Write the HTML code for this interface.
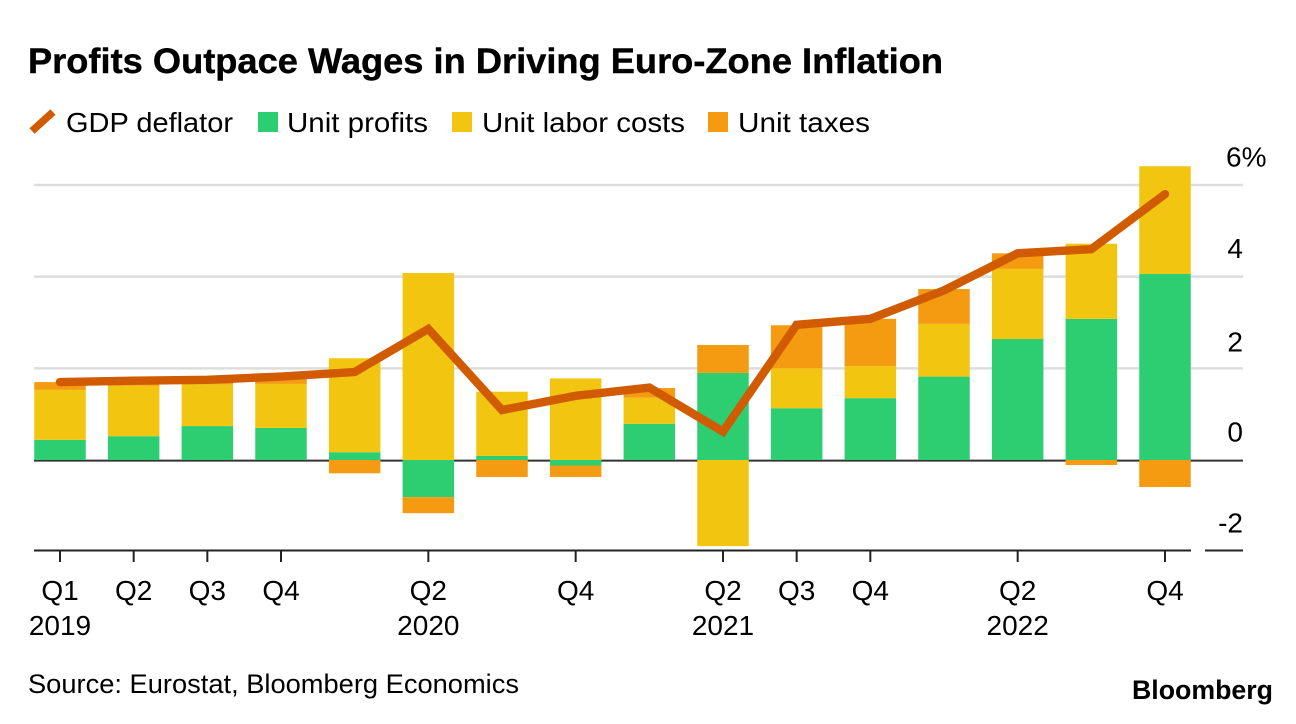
<!DOCTYPE html>
<html lang="en">
<head>
<meta charset="utf-8">
<title>Profits Outpace Wages in Driving Euro-Zone Inflation</title>
<style>
html,body{margin:0;padding:0;background:#fff;width:1296px;height:724px;overflow:hidden}
svg{display:block;font-family:"Liberation Sans",Arial,sans-serif;fill:#000}
</style>
</head>
<body>
<svg id="chart" width="1296" height="724" viewBox="0 0 1296 724" xmlns="http://www.w3.org/2000/svg">
  <rect x="0" y="0" width="1296" height="724" fill="#ffffff"/>
  <text x="28" y="73" font-size="35" font-weight="700" stroke="#000" stroke-width="0.4" textLength="915" lengthAdjust="spacingAndGlyphs">Profits Outpace Wages in Driving Euro-Zone Inflation</text>

  <g>
    <g>
      <line x1="32" y1="131" x2="53" y2="112" stroke="#d15b00" stroke-width="7.5"/>
      <text x="66" y="132" font-size="28" textLength="167" lengthAdjust="spacingAndGlyphs">GDP deflator</text>
    </g>
    <g>
      <rect x="258" y="112" width="20" height="20" fill="#2dce71"/>
      <text x="287" y="132" font-size="28" textLength="141" lengthAdjust="spacingAndGlyphs">Unit profits</text>
    </g>
    <g>
      <rect x="452" y="112" width="20" height="20" fill="#f2c511"/>
      <text x="482" y="132" font-size="28" textLength="203" lengthAdjust="spacingAndGlyphs">Unit labor costs</text>
    </g>
    <g>
      <rect x="708" y="112" width="20" height="20" fill="#f49b11"/>
      <text x="738" y="132" font-size="28" textLength="132" lengthAdjust="spacingAndGlyphs">Unit taxes</text>
    </g>
  </g>

  <g id="grid"></g>
  <g id="bars"></g>
  <g id="axes"></g>
  <g id="lineLayer"></g>

  <text x="28" y="693" font-size="26.5" textLength="491" lengthAdjust="spacingAndGlyphs">Source: Eurostat, Bloomberg Economics</text>
  <text x="1132" y="699" font-size="27" font-weight="700" textLength="141" lengthAdjust="spacingAndGlyphs">Bloomberg</text>
</svg>
<script>
// Chart data
const quarters = ["Q1 2019","Q2 2019","Q3 2019","Q4 2019","Q1 2020","Q2 2020","Q3 2020","Q4 2020","Q1 2021","Q2 2021","Q3 2021","Q4 2021","Q1 2022","Q2 2022","Q3 2022","Q4 2022"];
const unitProfits = [0.44,0.52,0.74,0.70,0.17,-0.81,0.09,-0.12,0.79,1.90,1.13,1.35,1.82,2.64,3.08,4.06];
const unitLaborCosts = [1.09,1.10,0.91,0.96,2.05,4.08,1.40,1.78,0.57,-1.88,0.87,0.70,1.15,1.53,1.64,2.35];
const unitTaxes = [0.17,0.04,0.05,0.15,-0.29,-0.35,-0.37,-0.25,0.21,0.61,0.94,1.03,0.76,0.34,-0.11,-0.59];
const gdpDeflator = [1.70,1.73,1.75,1.82,1.92,2.86,1.09,1.40,1.58,0.62,2.95,3.08,3.70,4.51,4.60,5.80];
const gridValues = [6,4,2];
const yTickValues = [6,4,2,0,-2];
const yTickLabels = ["6%","4","2","0","-2"];
const xTickQuarters = ["Q1 2019","Q2 2019","Q3 2019","Q4 2019","Q2 2020","Q4 2020","Q2 2021","Q3 2021","Q4 2021","Q2 2022","Q4 2022"];
const xTickLabels = ["Q1","Q2","Q3","Q4","Q2","Q4","Q2","Q3","Q4","Q2","Q4"];
const yearQuarters = ["Q1 2019","Q2 2020","Q2 2021","Q2 2022"];
const yearLabels = ["2019","2020","2021","2022"];

const SVGNS = "http://www.w3.org/2000/svg";
const firstX = 60, lastX = 1165, barW = 51.5;
const zeroY = 460, unitPx = 45.83;
const frameBottom = 550.5, plotLeft = 34, plotRight = 1243;
const tickFont = 28;
function xScale(i){ return firstX + i * (lastX - firstX) / (quarters.length - 1); }
function yScale(v){ return zeroY - v * unitPx; }
function make(tag, attrs){
  const el = document.createElementNS(SVGNS, tag);
  for (const k in attrs) el.setAttribute(k, attrs[k]);
  return el;
}

const grid = document.getElementById("grid");
const bars = document.getElementById("bars");
const axes = document.getElementById("axes");
const lineLayer = document.getElementById("lineLayer");

gridValues.forEach(function(v){
  const g = make("line", {x1: plotLeft, x2: plotRight, y1: yScale(v), y2: yScale(v), stroke: "#dddddd", "stroke-width": 2.5});
  
  
  grid.appendChild(g);
});

const zeroLine = make("line", {x1: plotLeft, x2: plotRight, y1: yScale(0) + 0.6, y2: yScale(0) + 0.6, stroke: "#333333", "stroke-width": 2});


grid.appendChild(zeroLine);

const seriesList = [
  {key: "unit-profits", values: unitProfits, color: "#2dce71"},
  {key: "unit-labor-costs", values: unitLaborCosts, color: "#f2c511"},
  {key: "unit-taxes", values: unitTaxes, color: "#f49b11"}
];
quarters.forEach(function(q, i){
  let pos = 0, neg = 0;
  seriesList.forEach(function(s){
    const v = s.values[i];
    let top, bottom;
    if (v >= 0) { bottom = pos; top = pos + v; pos = top; }
    else { top = neg; bottom = neg + v; neg = bottom; }
    const r = make("rect", {x: xScale(i) - barW / 2, width: barW, y: yScale(top), height: yScale(bottom) - yScale(top), fill: s.color});
    
    
    bars.appendChild(r);
  });
});

[[plotLeft, 1191], [1205, plotRight]].forEach(function(seg){
  const ax = make("line", {x1: seg[0], x2: seg[1], y1: frameBottom, y2: frameBottom, stroke: "#222222", "stroke-width": 2});
  
  
  axes.appendChild(ax);
});

xTickQuarters.forEach(function(q, n){
  const x = xScale(quarters.indexOf(q));
  const t = make("line", {x1: x, x2: x, y1: frameBottom, y2: 562, stroke: "#222222", "stroke-width": 2});
  
  
  axes.appendChild(t);
  const lab = make("text", {x: x, y: 600, "font-size": tickFont, "text-anchor": "middle"});
  lab.textContent = xTickLabels[n];
  
  
  axes.appendChild(lab);
});

yearQuarters.forEach(function(q, n){
  const lab = make("text", {x: xScale(quarters.indexOf(q)), y: 635, "font-size": tickFont, "text-anchor": "middle"});
  lab.textContent = yearLabels[n];
  
  
  axes.appendChild(lab);
});

yTickValues.forEach(function(v, n){
  let baseY = yScale(v) - 18.5;
  if (v === 2) baseY += 1.7;
  if (v === -2) baseY = frameBottom - 18;
  const lab = make("text", {x: v === 6 ? 1226 : 1243, y: baseY, "font-size": tickFont, "text-anchor": v === 6 ? "start" : "end"});
  lab.textContent = yTickLabels[n];
  
  
  axes.appendChild(lab);
});

const path = make("polyline", {
  points: gdpDeflator.map(function(v, i){ return xScale(i) + "," + yScale(v); }).join(" "),
  fill: "none", stroke: "#d15b00", "stroke-width": 8.4, "stroke-linecap": "round", "stroke-linejoin": "miter"
});


lineLayer.appendChild(path);
</script>
</body>
</html>
